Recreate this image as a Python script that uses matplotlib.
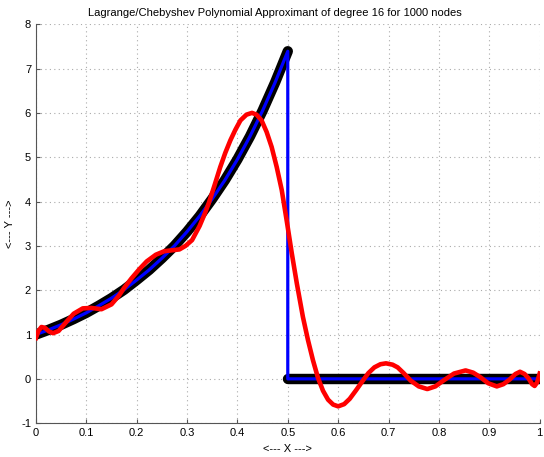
import numpy as np
import matplotlib
matplotlib.use("Agg")
import matplotlib.pyplot as plt

# nodes / function values
fx_left = [0.0, 0.025, 0.05, 0.075, 0.1, 0.125, 0.15, 0.175, 0.2, 0.225, 0.25,
           0.275, 0.3, 0.325, 0.35, 0.375, 0.4, 0.425, 0.45, 0.475, 0.5]
fy_left = [1.00, 1.105, 1.22, 1.35, 1.49, 1.65, 1.82, 2.01, 2.23, 2.46, 2.72,
           3.00, 3.32, 3.67, 4.06, 4.48, 4.95, 5.47, 6.05, 6.69, 7.39]
fx_right = [0.5, 1.0]
fy_right = [0.0, 0.0]

# polynomial approximant
px = [0.000, 0.005, 0.011, 0.018, 0.026, 0.034, 0.045, 0.060, 0.075, 0.093,
      0.110, 0.130, 0.150, 0.165, 0.175, 0.190, 0.205, 0.220, 0.238, 0.255,
      0.270, 0.285, 0.297, 0.310, 0.325, 0.335, 0.343, 0.355, 0.366, 0.376,
      0.386, 0.396, 0.406, 0.418, 0.429, 0.438, 0.448, 0.458, 0.468, 0.478,
      0.488, 0.498, 0.508, 0.518, 0.530, 0.540, 0.550, 0.560, 0.570, 0.580,
      0.590, 0.600, 0.612, 0.623, 0.636, 0.649, 0.660, 0.672, 0.684, 0.695,
      0.708, 0.718, 0.730, 0.744, 0.760, 0.777, 0.793, 0.810, 0.830, 0.853,
      0.868, 0.882, 0.898, 0.915, 0.928, 0.941, 0.952, 0.961, 0.970, 0.978,
      0.985, 0.990, 0.995, 1.000]
py = [0.92, 1.08, 1.17, 1.15, 1.07, 1.03, 1.08, 1.28, 1.47, 1.59,
      1.60, 1.57, 1.68, 1.88, 2.05, 2.27, 2.47, 2.65, 2.80, 2.88,
      2.90, 2.92, 3.00, 3.13, 3.45, 3.72, 3.96, 4.38, 4.78, 5.10,
      5.38, 5.62, 5.83, 5.96, 6.00, 5.96, 5.83, 5.57, 5.23, 4.78,
      4.26, 3.56, 2.83, 2.15, 1.40, 0.88, 0.42, 0.02, -0.27, -0.47,
      -0.58, -0.62, -0.57, -0.45, -0.25, -0.04, 0.13, 0.26, 0.33, 0.35,
      0.32, 0.26, 0.13, -0.04, -0.17, -0.23, -0.17, -0.03, 0.12, 0.19,
      0.14, 0.04, -0.10, -0.17, -0.12, -0.01, 0.11, 0.16, 0.11, 0.01,
      -0.12, -0.16, -0.08, 0.12]

plt.rcParams['font.family'] = ['Liberation Sans', 'DejaVu Sans']
plt.rcParams['axes.unicode_minus'] = False
fig = plt.figure(figsize=(5.44, 4.57), dpi=100)
ax = fig.add_axes([0.066, 0.074, 0.926, 0.873])

# thick black band of node markers (two separate pieces)
ax.plot(fx_left, fy_left, color='black', lw=7.5, solid_capstyle='round', zorder=2)
ax.plot(fx_right, fy_right, color='black', lw=7.5, solid_capstyle='round', zorder=2)
# the function itself, with the vertical jump
ax.plot(fx_left + fx_right, fy_left + fy_right, color='blue', lw=2.3, zorder=3)
# polynomial approximant
ax.plot(px, py, color='red', lw=3.3, solid_joinstyle='round', zorder=4)

ax.set_xlim(0, 1)
ax.set_ylim(-1, 8)
ax.set_xticks(np.arange(0, 1.01, 0.1))
ax.set_xticklabels(['0', '0.1', '0.2', '0.3', '0.4', '0.5', '0.6', '0.7', '0.8', '0.9', '1'])
ax.set_yticks(range(-1, 9))
ax.tick_params(direction='in', length=3, labelsize=8, color='#555555')
ax.grid(True, linestyle=(0, (1, 3)), color='#aaaaaa', lw=0.8)
for s in ['top', 'right']:
    ax.spines[s].set_visible(False)
for s in ['left', 'bottom']:
    ax.spines[s].set_color('#555555')

ax.set_title('Lagrange/Chebyshev Polynomial Approximant of degree 16 for 1000 nodes',
             fontsize=8, x=0.475)
ax.set_xlabel('<--- X --->', fontsize=8)
ax.set_ylabel('<--- Y --->', fontsize=8)

fig.savefig('out.png', dpi=100)
